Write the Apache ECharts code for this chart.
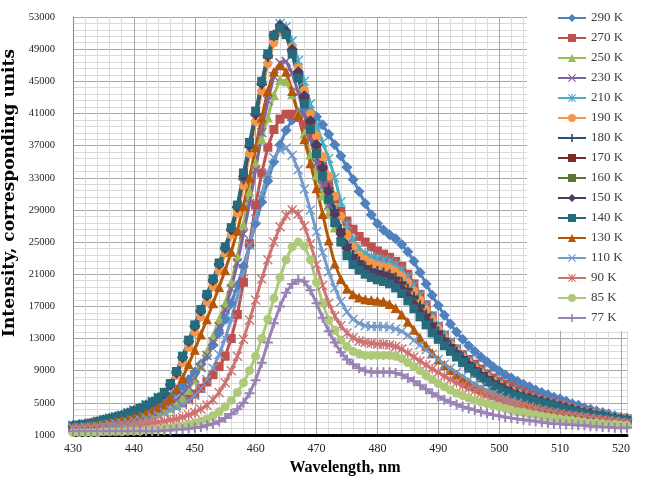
<!DOCTYPE html>
<html>
<head>
<meta charset="utf-8">
<script src="https://cdn.jsdelivr.net/npm/echarts@6/dist/echarts.min.js"></script>
<style>
  html, body { margin: 0; padding: 0; background: #fff; }
  #chart { width: 646px; height: 482px; }
</style>
</head>
<body>
<div id="chart"></div>
<script>
// wavelength, nm
var wavelengths = [430,431,432,433,434,435,436,437,438,439,440,441,442,443,444,445,446,447,448,449,
  450,451,452,453,454,455,456,457,458,459,460,461,462,463,464,465,466,467,468,469,
  470,471,472,473,474,475,476,477,478,479,480,481,482,483,484,485,486,487,488,489,
  490,491,492,493,494,495,496,497,498,499,500,501,502,503,504,505,506,507,508,509,
  510,511,512,513,514,515,516,517,518,519,520,521];

var xTickLabels = [430,440,450,460,470,480,490,500,510,520];
var yTickLabels = [1000,5000,9000,13000,17000,21000,25000,29000,33000,37000,41000,45000,49000,53000];

var names = ['290 K','270 K','250 K','230 K','210 K','190 K','180 K','170 K','160 K','150 K','140 K','130 K','110 K','90 K','85 K','77 K'];

var k290 = [2200,2300,2400,2500,2700,2900,3100,3300,3500,3700,
  3900,4100,4300,4600,4900,5300,5800,6400,7100,7900,
  8800,9800,10900,12200,13700,15400,17400,19600,22000,24600,
  27300,30000,32600,35000,37100,38900,40200,41100,41400,41200,
  40600,39600,38400,37100,35700,34300,32800,31300,29800,28400,
  27300,26500,25900,25400,24700,23800,22600,21200,19800,18400,
  17100,15900,14800,13800,12900,12100,11400,10700,10100,9500,
  9000,8500,8100,7700,7300,7000,6600,6300,6000,5700,
  5500,5200,4900,4700,4400,4200,4000,3800,3600,3400,3200,3100];
var k270 = [2000,2100,2300,2500,2700,2900,3000,3100,3200,3300,
  3400,3500,3700,3800,4000,4200,4400,4700,5000,5500,
  6100,6800,7600,8500,9500,10800,13000,16000,20000,24800,
  29600,33600,36800,39000,40300,40900,40900,40500,39600,38200,
  36400,34400,32400,30400,28800,27600,26600,25700,25000,24400,
  23900,23500,23100,22600,22000,21000,19800,18500,17200,15800,
  14500,13400,12500,11700,11000,10400,9800,9200,8600,8100,
  7700,7300,7000,6600,6300,6000,5700,5400,5200,5000,
  4800,4600,4400,4200,4000,3800,3600,3500,3300,3200,3100,3000];
var k250 = [2000,2000,2100,2100,2200,2300,2400,2500,2600,2700,
  2900,3000,3200,3400,3700,4000,4400,4900,5600,6600,
  7900,9600,11400,13300,15400,17400,20000,23200,27200,31300,
  34800,37800,40500,43300,45200,45000,43400,41000,38500,35900,
  33300,30800,28600,26800,25400,24400,23700,23200,22800,22500,
  22300,22100,21800,21300,20500,19500,18400,17200,16000,14900,
  13800,12800,11900,11100,10400,9700,9100,8500,8000,7500,
  7100,6700,6400,6100,5800,5500,5300,5100,4900,4700,
  4500,4300,4100,3900,3700,3600,3400,3300,3200,3000,2900,2800];
var k230 = [2100,2100,2200,2300,2400,2500,2600,2700,2900,3000,
  3200,3400,3600,3900,4200,4500,4900,5400,6100,7000,
  8100,9400,10900,12600,14500,16600,19200,22400,26000,29800,
  34000,38600,42600,45600,47300,47500,46000,43600,40800,37800,
  34800,32000,29600,27600,26000,24800,24000,23400,23000,22700,
  22500,22300,22000,21500,20800,19800,18700,17500,16300,15100,
  14000,13000,12100,11300,10500,9800,9200,8600,8100,7600,
  7200,6800,6500,6200,5900,5600,5400,5200,5000,4800,
  4600,4400,4200,4000,3800,3600,3500,3300,3200,3100,3000,2900];
var k210 = [2200,2300,2400,2500,2700,2900,3100,3300,3500,3800,
  4100,4400,4800,5200,5700,6300,7200,8500,10100,12000,
  13900,15800,17700,19600,21600,23700,26000,28800,32500,36500,
  40500,44300,47800,50600,52200,51800,50000,47600,45000,42200,
  39600,37400,35400,33000,30000,27200,25300,24200,23600,23200,
  23000,22800,22600,22200,21600,20700,19600,18400,17100,15800,
  14600,13500,12600,11700,10900,10200,9500,8900,8300,7800,
  7400,7000,6600,6300,6000,5700,5500,5300,5100,4900,
  4700,4500,4300,4100,3900,3800,3600,3500,3300,3200,3100,3000];
var k190 = [2100,2200,2300,2400,2600,2800,3000,3200,3400,3700,
  4000,4300,4700,5100,5600,6200,7100,8400,10000,11900,
  13800,15700,17600,19500,21500,23600,25900,28600,32000,36000,
  40000,43800,47200,49800,51200,51000,49200,46700,43900,41000,
  38200,35600,33200,30700,28200,26000,24400,23400,22800,22400,
  22100,21900,21700,21300,20700,19900,18900,17800,16600,15400,
  14200,13200,12300,11500,10700,10000,9300,8700,8200,7700,
  7300,6900,6500,6200,5900,5600,5400,5200,5000,4800,
  4600,4400,4200,4000,3900,3700,3600,3400,3300,3200,3100,3000];
var k180 = [2100,2200,2300,2400,2600,2800,3000,3200,3400,3700,
  4000,4300,4700,5100,5600,6200,7300,8800,10700,12700,
  14600,16500,18400,20300,22300,24300,26600,29400,32800,36800,
  40800,44600,48000,50600,51800,51000,48800,46000,43000,40000,
  37100,34400,31700,29000,26600,24700,23400,22600,22000,21600,
  21400,21200,21000,20600,20000,19200,18200,17100,16000,14900,
  13900,13000,12200,11400,10700,10000,9300,8700,8200,7700,
  7300,6900,6500,6200,5900,5600,5400,5200,5000,4800,
  4600,4400,4200,4000,3800,3700,3500,3400,3200,3100,3000,2900];
var k170 = [2100,2200,2300,2400,2600,2800,3000,3200,3400,3700,
  4000,4300,4600,5000,5500,6100,7200,8700,10600,12600,
  14500,16400,18300,20200,22200,24200,26500,29300,33100,36900,
  40800,44600,48000,50500,51500,50800,48600,45800,42800,39800,
  36900,34100,31300,28600,26300,24500,23300,22500,21900,21500,
  21200,21000,20800,20400,19800,19000,18000,16900,15800,14700,
  13700,12800,12000,11200,10500,9800,9200,8600,8100,7600,
  7200,6800,6400,6100,5800,5500,5300,5100,4900,4700,
  4500,4300,4100,3900,3800,3600,3500,3300,3200,3100,3000,2900];
var k160 = [2100,2200,2300,2400,2600,2800,3000,3200,3400,3700,
  4000,4300,4600,5000,5500,6100,7200,8700,10600,12600,
  14500,16400,18300,20200,22200,24200,26500,29300,33000,36800,
  40700,44500,47900,50400,51500,50600,48400,45600,42600,39600,
  36700,33900,31100,28300,26000,24200,23000,22200,21700,21300,
  21000,20800,20600,20200,19600,18800,17800,16700,15600,14500,
  13500,12600,11800,11000,10300,9600,9000,8400,7900,7400,
  7000,6600,6300,6000,5700,5500,5300,5100,4900,4700,
  4500,4300,4100,3900,3700,3600,3400,3300,3200,3100,3000,2900];
var k150 = [2100,2200,2300,2400,2600,2800,3000,3200,3400,3700,
  4000,4300,4600,5000,5500,6100,7200,8700,10600,12600,
  14500,16400,18300,20200,22200,24200,26500,29300,33200,37000,
  40900,44700,48200,50800,52000,51300,49000,46200,43200,40100,
  37100,34200,31300,28400,26000,24200,23000,22200,21600,21200,
  20900,20700,20400,19900,19200,18300,17300,16300,15300,14300,
  13400,12600,11800,11100,10400,9700,9000,8400,7900,7400,
  7000,6600,6300,6000,5800,5600,5400,5200,5000,4800,
  4600,4400,4200,4000,3800,3700,3500,3400,3200,3100,3000,2900];
var k140 = [2100,2200,2300,2400,2600,2800,3000,3200,3400,3700,
  4000,4300,4700,5100,5600,6300,7400,8900,10800,12800,
  14700,16600,18500,20400,22400,24400,26800,29600,33600,37400,
  41300,45000,48400,50700,51600,50800,48400,45400,42200,39000,
  36000,33200,30300,27400,25000,23300,22200,21500,21000,20600,
  20300,20100,19800,19300,18600,17700,16700,15700,14700,13700,
  12900,12100,11400,10700,10000,9300,8700,8100,7600,7100,
  6700,6300,6000,5800,5600,5400,5200,5000,4800,4600,
  4400,4200,4000,3800,3700,3500,3400,3300,3100,3000,2900,2800];
var k130 = [2000,2000,2100,2200,2300,2400,2600,2700,2900,3000,
  3200,3400,3700,4000,4400,4800,5600,6700,8100,9800,
  11600,13500,15400,17400,19400,21500,23800,26400,29500,33000,
  36800,40500,43800,46200,47000,46200,43800,40800,37800,34800,
  31700,28500,25200,22300,20400,19200,18500,18100,17900,17800,
  17700,17600,17300,16800,16000,15100,14100,13100,12100,11200,
  10400,9700,9100,8500,8000,7500,7100,6700,6300,6000,
  5700,5400,5200,5000,4800,4600,4400,4200,4000,3900,
  3700,3600,3400,3300,3200,3000,2900,2800,2700,2600,2500,2500];
var k110 = [1900,1900,2000,2000,2100,2200,2300,2400,2500,2600,
  2800,2900,3100,3300,3500,3800,4100,4400,4800,5300,
  5900,6800,7900,9300,11000,13000,15400,18200,21300,24600,
  27900,31000,33600,35500,36500,36700,35800,34000,31600,29000,
  26300,23700,21300,19300,17600,16300,15400,14900,14600,14500,
  14500,14500,14400,14200,13900,13400,12800,12200,11600,11000,
  10400,9800,9300,8800,8300,7800,7300,6900,6500,6100,
  5800,5500,5200,5000,4700,4500,4300,4100,3900,3800,
  3600,3500,3400,3300,3200,3100,3000,2900,2800,2700,2600,2500];
var k90 = [1700,1700,1800,1800,1900,1900,2000,2000,2100,2100,
  2200,2300,2400,2500,2600,2700,2900,3000,3200,3500,
  3800,4200,4700,5400,6300,7500,9000,10800,12900,15300,
  17800,20400,22800,25000,26900,28300,29000,28500,27000,24800,
  22200,19600,17400,15800,14600,13700,13100,12700,12500,12400,
  12300,12300,12200,12000,11700,11200,10700,10200,9700,9200,
  8800,8300,7900,7500,7100,6800,6500,6200,5900,5700,
  5400,5200,5000,4800,4600,4400,4200,4000,3900,3700,
  3600,3400,3300,3200,3100,3000,2900,2800,2700,2600,2500,2500];
var k85 = [1300,1300,1300,1300,1300,1400,1400,1400,1400,1500,
  1500,1500,1600,1600,1700,1800,1900,2000,2100,2300,
  2500,2700,3000,3400,3900,4500,5300,6300,7500,9000,
  10800,13000,15400,18000,20600,22800,24400,25000,24500,22800,
  20000,17400,15300,14000,12800,12000,11400,11100,10900,10900,
  10900,10900,10900,10800,10500,10000,9500,9000,8400,7900,
  7400,7000,6600,6200,5900,5600,5300,5100,4900,4700,
  4500,4300,4100,3900,3800,3600,3500,3300,3200,3100,
  3000,2900,2800,2700,2600,2500,2500,2400,2300,2300,2200,2200];
var k77 = [1500,1500,1500,1500,1500,1500,1500,1500,1500,1500,
  1500,1500,1500,1500,1500,1600,1600,1700,1700,1800,
  1900,2000,2200,2400,2700,3100,3600,4200,5000,6200,
  7800,10000,12500,14900,17000,18700,19800,20300,20100,19000,
  17400,15600,13900,12500,11300,10400,9800,9300,9000,8800,
  8800,8800,8800,8700,8500,8100,7700,7200,6700,6200,
  5800,5400,5100,4800,4500,4300,4100,3900,3700,3500,
  3400,3200,3100,3000,2900,2800,2700,2600,2500,2400,
  2400,2300,2300,2200,2200,2100,2100,2000,2000,1900,1900,1900];

var values = [k290,k270,k250,k230,k210,k190,k180,k170,k160,k150,k140,k130,k110,k90,k85,k77];
var colors = ['#4F81BD','#C0504D','#9BBB59','#8064A2','#4BACC6','#F79646','#2C4D75','#772C2A',
  '#5F7530','#4D3B62','#276A7C','#B65708','#729ACA','#CD7371','#AFC97A','#9983B5'];

var xMark = 'path://M1,0 L5,4 L9,0 L10,1 L6,5 L10,9 L9,10 L5,6 L1,10 L0,9 L4,5 L0,1 Z';
var plusMark = 'path://M4,0 L6,0 L6,4 L10,4 L10,6 L6,6 L6,10 L4,10 L4,6 L0,6 L0,4 L4,4 Z';
var starMark = 'path://M1,0 L5,4 L9,0 L10,1 L6,5 L10,9 L9,10 L5,6 L1,10 L0,9 L4,5 L0,1 Z M4.3,0 L5.7,0 L5.7,10 L4.3,10 Z';
var dashMark = 'path://M0,0 L10,0 L10,2 L0,2 Z';
var symbols = ['diamond','rect','triangle',xMark,starMark,'circle',plusMark,dashMark,
  dashMark,'diamond','rect','triangle',xMark,starMark,'circle',plusMark];
var sizes = [11,9,10,10,10,9,10,[9,3],[6,3],11,9,10,10,10,9,10];

var serif = '"Liberation Serif", "DejaVu Serif", serif';

var series = names.map(function(name, i) {
  return {
    name: name,
    type: 'line',
    data: wavelengths.map(function(w, j) { return [w, values[i][j]]; }),
    symbol: symbols[i],
    symbolSize: sizes[i],
    showSymbol: true,
    lineStyle: { width: 3, color: colors[i] },
    itemStyle: { color: colors[i] },
    emphasis: { disabled: true }
  };
});

var chart = echarts.init(document.getElementById('chart'));
chart.setOption({
  animation: false,
  backgroundColor: '#fff',
  grid: { left: 73, right: 19, top: 17, bottom: 47, containLabel: false, outerBoundsMode: 'none' },
  legend: {
    orient: 'vertical',
    left: 527,
    top: 0,
    padding: [11, 30, 6, 30],
    itemGap: 6,
    itemWidth: 28,
    itemHeight: 10,
    backgroundColor: '#fff',
    data: names,
    textStyle: { fontFamily: serif, fontSize: 13, color: '#404040', lineHeight: 14 }
  },
  xAxis: {
    type: 'value',
    min: 430,
    max: 521,
    interval: 2,
    name: 'Wavelength, nm',
    nameLocation: 'middle',
    nameGap: 25,
    nameTextStyle: { fontFamily: serif, fontSize: 16, fontWeight: 'bold', color: '#000', padding: [0, 10, 0, 0] },
    axisLine: { show: true, lineStyle: { color: '#000', width: 3 } },
    axisTick: { show: false },
    axisLabel: {
      margin: 8,
      fontFamily: serif,
      fontSize: 12,
      color: '#222',
      formatter: function(v) { return xTickLabels.indexOf(v) >= 0 ? String(v) : ''; }
    },
    splitLine: { show: true, lineStyle: { width: 1, color: ['#a6a6a6','#dadada','#dadada','#dadada','#dadada'] } }
  },
  yAxis: {
    type: 'value',
    min: 1000,
    max: 53000,
    interval: 800,
    name: 'Intensity, corresponding units',
    nameLocation: 'middle',
    nameGap: 40,
    nameTextStyle: { fontFamily: '"DejaVu Serif", serif', fontSize: 17, fontWeight: 'bold', color: '#000', padding: [0, 0, 0, 66] },
    axisLine: { show: true, lineStyle: { color: '#868686', width: 1 } },
    axisTick: { show: false },
    axisLabel: {
      margin: 18,
      fontFamily: serif,
      fontSize: 10.5,
      color: '#222',
      formatter: function(v) { return yTickLabels.indexOf(v) >= 0 ? String(v) : ''; }
    },
    splitLine: { show: true, lineStyle: { width: 1, color: ['#a6a6a6','#dadada','#dadada','#dadada','#dadada'] } }
  },
  series: series
});
</script>
</body>
</html>
